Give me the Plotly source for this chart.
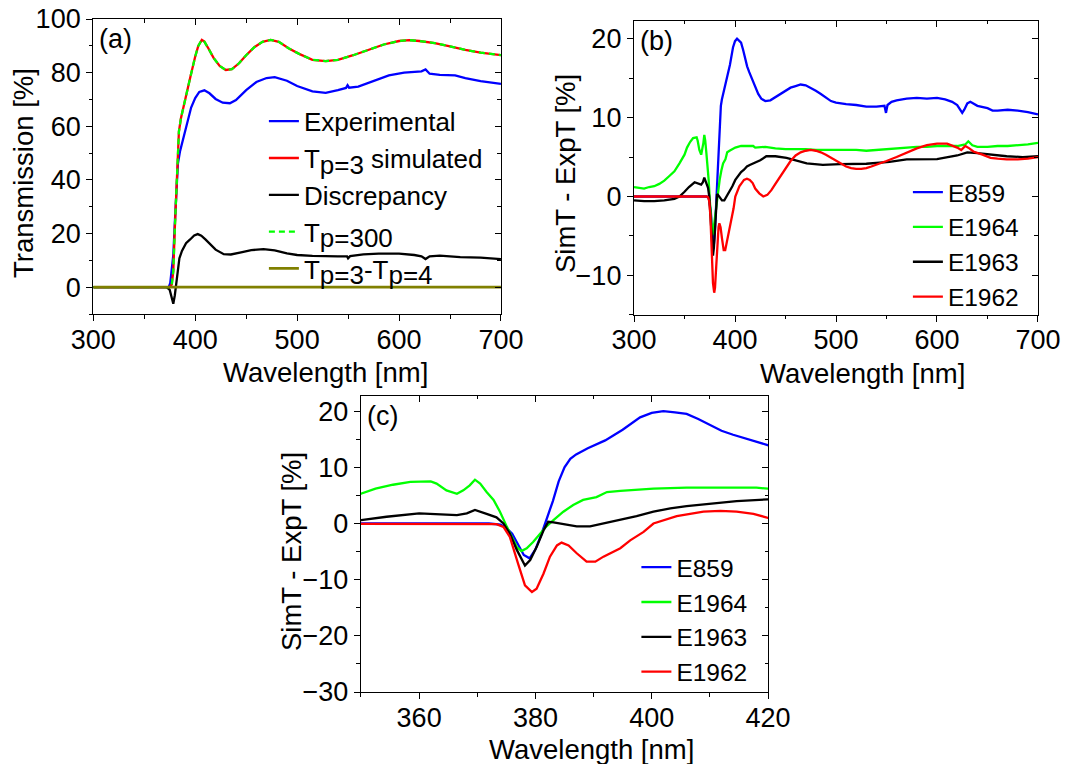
import plotly.graph_objects as go

# ---------------- (a) transmission spectra ----------------
wl_sim = [300, 340, 370, 375, 377, 378.5, 380, 381.5, 383, 384, 386, 390, 395, 400, 403,
          406.5, 409, 413, 418, 424, 430, 436, 443, 450, 458, 466, 474, 482, 492, 502,
          515, 528, 540, 555, 570, 585, 600, 610, 620, 635, 650, 665, 680, 700]
t_sim = [0, 0, 0, 0, 1, 6, 22, 38, 52, 58, 63, 70, 78, 86, 90,
         92.2, 91.6, 89, 85.5, 82.5, 81, 81.3, 83.5, 86.5, 89.5, 91.5, 92.2, 91.5, 89, 87,
         84.8, 84.3, 84.8, 86.5, 88.5, 90.5, 91.8, 92.1, 91.8, 91, 89.8, 88.5, 87.5, 86.5]
t_p300 = list(t_sim)

wl_exp = [300, 340, 374, 375.5, 377, 378.5, 380, 381.5, 383, 385, 388, 392, 396, 400, 404,
          409, 414, 420, 427, 434, 440, 450, 460, 470, 478, 490, 500, 515, 528, 540,
          548, 549.5, 551, 560, 575, 590, 605, 615, 622, 626, 630, 640, 655, 665, 680, 700]
t_exp = [0, 0, 0, 1.5, 7, 12, 24, 36, 46, 50.5, 55, 61, 67, 70.5, 72.8,
         73.4, 72.3, 70.2, 68.8, 68.6, 69.8, 73.5, 76.5, 78, 78.3, 77, 75, 73, 72.5, 73.5,
         74.3, 75.3, 74.4, 74.8, 77, 79, 80, 80.3, 80.5, 81.2, 79.6, 79.2, 79, 78, 76.8, 75.8]

wl_disc = [300, 340, 372, 375, 377, 378.5, 380, 381.5, 383, 384.5, 387, 391, 395, 399,
           402.5, 406, 410, 415, 420, 428, 435, 445, 455, 467, 478, 490, 500, 515, 528,
           540, 549, 550, 552, 565, 580, 600, 615, 622, 626, 630, 640, 660, 680, 700]
t_disc = [0, 0, 0, -1, -4, -6.2, -3, 2, 7, 10.8, 13.5, 16.4, 17.8, 19.3,
          19.8, 19.2, 17.8, 15.8, 14, 12.3, 12.2, 13, 13.8, 14.2, 13.7, 12.6, 12, 11.7, 11.5,
          11.5, 11.5, 10.8, 11.6, 12.2, 12.5, 12.5, 12, 11.5, 10.5, 11.5, 11.8, 11.2, 11, 10.5]

wl_tp34 = [300, 400, 500, 600, 700]
t_tp34 = [0, 0, 0, 0, 0]

# ---------------- (b)/(c) SimT - ExpT per sample ----------------
wl_e859 = [300, 340, 360, 372, 374, 375, 376, 377, 378, 379, 380, 381, 382, 383, 384, 385,
           386, 387, 389, 392, 395, 398, 400, 402, 404, 406, 408, 410, 412, 414, 416, 418,
           420, 423, 426, 430, 435, 440, 445, 450, 455, 460, 465, 470, 475, 480, 485, 490,
           495, 500, 510, 520, 530, 540, 548, 549.5, 551, 555, 560, 570, 580, 590, 600, 608,
           615, 620, 623, 625, 627, 630, 633, 640, 650, 655, 660, 670, 680, 690, 700]
d_e859 = [0, 0, 0, 0, -0.2, -0.8, -1.8, -3.8, -5.6, -6.2, -4.6, -2.0, 1.0, 4.0, 7.5, 10.0,
          11.5, 12.3, 13.4, 14.8, 16.7, 18.9, 19.7, 20.0, 19.8, 19.5, 18.6, 17.5, 16.5, 15.8, 15.2, 14.5,
          13.9, 13.0, 12.4, 12.1, 12.2, 12.6, 13.1, 13.5, 13.8, 14.0, 14.2, 14.1, 13.8, 13.4, 13.0, 12.5,
          12.1, 11.9, 11.7, 11.6, 11.4, 11.4, 11.5, 10.6, 11.6, 12.0, 12.2, 12.4, 12.5, 12.4, 12.5, 12.3,
          12.0, 11.6, 11.0, 10.6, 11.0, 11.8, 12.0, 11.5, 11.2, 10.9, 10.9, 11.0, 10.9, 10.7, 10.4]

wl_e1964 = [300, 305, 310, 315, 320, 325, 330, 335, 340, 345, 350, 352.5, 355.5, 358.5, 362, 363,
            364.7, 366.5, 367.6, 368.7, 369.6, 370.5, 371.6, 372.8, 373.9, 375.1, 376.8, 377.6,
            378.5, 379.6, 380.8, 381.9, 383.1, 384.8, 386.5, 388.2, 390.5, 392.3, 394.6, 397.4,
            400.3, 406, 412, 418, 420, 430, 440, 450, 460, 470, 480, 490, 500, 510, 520, 530,
            540, 550, 560, 570, 580, 590, 600, 610, 620, 628, 631, 635, 640, 650, 660, 670, 680,
            690, 700]
d_e1964 = [1.2, 1.1, 1.0, 1.2, 1.3, 1.6, 2.0, 2.6, 3.2, 4.2, 5.3, 6.2, 6.9, 7.4, 7.5, 7.1,
           5.9, 5.3, 5.9, 6.8, 7.8, 7.1, 5.6, 4.2, 2.1, -0.6, -4.2, -4.9,
           -4.4, -3.3, -1.8, -0.5, 0.6, 2.1, 3.3, 4.2, 4.7, 5.6, 5.8, 6.0,
           6.2, 6.4, 6.4, 6.4, 6.2, 6.3, 6.1, 6.0, 6.0, 6.0, 5.9, 5.9, 5.9, 5.9, 5.9, 5.8,
           5.9, 6.0, 6.1, 6.2, 6.3, 6.3, 6.4, 6.4, 6.4, 6.6, 7.0, 6.5, 6.3, 6.3, 6.4, 6.4, 6.5,
           6.6, 6.8]

wl_e1963 = [300, 310, 320, 330, 340, 345, 350, 354.4, 360, 363, 366.5, 368.2, 369.6, 371.6,
            373.3, 374.5, 375.6, 376.8, 378.2, 379.1, 380.2, 381.4, 382.2, 383.1, 384.8, 387.1,
            389.4, 391.7, 394.6, 397.4, 400.3, 403.2, 406, 408.9, 411.8, 414.6, 420, 425, 431,
            440, 451, 460, 471, 487, 504, 530, 553, 570, 600, 620, 630, 640, 653, 669, 685, 700]
d_e1963 = [-0.5, -0.6, -0.6, -0.5, -0.3, 0.0, 0.6, 1.2, 1.8, 1.7, 1.5, 1.8, 2.4, 1.7,
           1.1, 0.0, -1.8, -4.7, -7.5, -6.5, -4.2, -1.2, 0.3, 0.2, -0.1, -0.5,
           -0.5, 0.0, 0.6, 1.3, 2.1, 2.7, 3.1, 3.4, 3.8, 4.0, 4.3, 4.6, 5.1,
           5.1, 4.9, 4.6, 4.2, 4.0, 4.1, 4.15, 4.4, 4.7, 4.75, 5.2, 5.6, 5.5, 5.3, 5.1, 5.0, 5.1]

wl_e1962 = [300, 340, 372, 373.3, 374.5, 375.6, 377, 378.2, 379.4, 380.2, 381.4, 382.5, 383.7,
            384.5, 385.7, 387.1, 388.8, 390.3, 391.7, 394.6, 396.3, 398.6, 400.3, 402, 404.3,
            406.6, 408.9, 411.8, 414.6, 417.5, 420, 424, 428, 432, 436, 440, 445, 450, 455, 460,
            465, 470, 475, 480, 485, 490, 495, 500, 505, 510, 515, 520, 525, 530, 535, 540, 550,
            560, 570, 580, 590, 600, 610, 615, 620, 624, 628, 632, 636, 645, 653, 660, 669, 680,
            690, 700]
d_e1962 = [0, 0, 0, -0.1, -0.6, -2.4, -7.1, -11.0, -12.2, -11.6, -8.9, -5.9, -3.9,
           -3.4, -3.9, -5.3, -6.8, -6.8, -5.9, -4.4, -3.0, -1.5, 0.0, 0.6, 1.3,
           1.7, 2.1, 2.25, 2.1, 1.7, 1.0, 0.4, 0.0, 0.2, 0.8, 1.6, 2.6, 3.6, 4.5, 5.2,
           5.6, 5.8, 5.9, 5.8, 5.6, 5.3, 4.9, 4.5, 4.1, 3.8, 3.6, 3.5, 3.5, 3.6, 3.8, 4.0, 4.5,
           5.0, 5.6, 6.1, 6.5, 6.7, 6.7, 6.5, 6.2, 5.9, 6.4, 6.1, 5.7, 5.3, 4.9, 4.8, 4.7, 4.7,
           4.8, 5.0]

FONT = "Liberation Sans, Arial, sans-serif"
BLUE, RED, BLACK, GREEN, OLIVE = "#0000ff", "#ff0000", "#000000", "#00ff00", "#808000"
LW = 2.3
TICK_FS = 27
TITLE_FS = 27.5
LEG_A_FS = 26
LEG_BC_FS = 24.5
W, H = 1086, 764


def sub(txt):
    return "<sub><span style='font-size:%dpx'>%s</span></sub>" % (LEG_A_FS, txt)


fig = go.Figure()

# panel (a)
fig.add_trace(go.Scatter(x=wl_exp, y=t_exp, name="Experimental", line=dict(color=BLUE, width=LW),
                         xaxis="x", yaxis="y", legend="legend", legendgroup="a1"))
fig.add_trace(go.Scatter(x=wl_sim, y=t_sim, name="T" + sub("p=3") + " simulated",
                         line=dict(color=RED, width=LW), xaxis="x", yaxis="y",
                         legend="legend", legendgroup="a2"))
fig.add_trace(go.Scatter(x=wl_disc, y=t_disc, name="Discrepancy", line=dict(color=BLACK, width=LW),
                         xaxis="x", yaxis="y", legend="legend", legendgroup="a3"))
fig.add_trace(go.Scatter(x=wl_sim, y=t_p300, name="T" + sub("p=300"),
                         line=dict(color=GREEN, width=LW, dash="6px,4px"), xaxis="x", yaxis="y",
                         legend="legend", legendgroup="a4"))
fig.add_trace(go.Scatter(x=wl_tp34, y=t_tp34, name="T" + sub("p=3") + "-T" + sub("p=4"),
                         line=dict(color=OLIVE, width=LW + 0.4), xaxis="x", yaxis="y",
                         legend="legend", legendgroup="a5"))

samples = [("E859", wl_e859, d_e859, BLUE), ("E1964", wl_e1964, d_e1964, GREEN),
           ("E1963", wl_e1963, d_e1963, BLACK), ("E1962", wl_e1962, d_e1962, RED)]
for nm, wl, d, col in samples:
    fig.add_trace(go.Scatter(x=wl, y=d, name=nm, line=dict(color=col, width=LW),
                             xaxis="x2", yaxis="y2", legend="legend2"))
for nm, wl, d, col in samples:
    fig.add_trace(go.Scatter(x=wl, y=d, name=nm, line=dict(color=col, width=LW),
                             xaxis="x3", yaxis="y3", legend="legend3"))

for tr in fig.data:
    tr.mode = "lines"
    tr.hoverinfo = "skip"

xa_rng, ya_rng = [300, 700], [-10, 100]
xb_rng, yb_rng = [300, 700], [-15, 22.3]
xc_rng, yc_rng = [350, 420], [-30, 22.7]

# top and right frame axes carrying inward ticks; an invisible trace keeps each one drawn
frames = [("x", "y", "x4", "y4", xa_rng, ya_rng),
          ("x2", "y2", "x5", "y5", xb_rng, yb_rng),
          ("x3", "y3", "x6", "y6", xc_rng, yc_rng)]
for bx, by, tx, ry, xr, yr in frames:
    for ax_x, ax_y in ((tx, by), (bx, ry)):
        fig.add_trace(go.Scatter(x=xr, y=yr, xaxis=ax_x, yaxis=ax_y, mode="lines",
                                 line=dict(width=0, color="rgba(0,0,0,0)"), showlegend=False,
                                 hoverinfo="skip"))

tickfont = dict(family=FONT, size=TICK_FS, color="black")


def base_axis(rng, dtick, mdtick, domain, anchor, standoff=0):
    return dict(range=rng, domain=domain, anchor=anchor, dtick=dtick, tick0=0,
                ticks="outside", ticklen=6, tickwidth=1.3, tickcolor="black",
                minor=dict(dtick=mdtick, tick0=0, ticks="outside", ticklen=3.5, tickwidth=1.3,
                           tickcolor="black", showgrid=False),
                showline=True, linecolor="black", linewidth=1.4, mirror=True,
                showgrid=False, zeroline=False, tickfont=tickfont, automargin=False,
                ticklabelstandoff=standoff)


def frame_axis(rng, dtick, mdtick, overlay, anchor, side):
    return dict(range=rng, overlaying=overlay, anchor=anchor, side=side, dtick=dtick, tick0=0,
                ticks="inside", ticklen=6, tickwidth=1.3, tickcolor="black",
                minor=dict(dtick=mdtick, tick0=0, ticks="inside", ticklen=3.5, tickwidth=1.3,
                           tickcolor="black", showgrid=False),
                showticklabels=False, showline=False, showgrid=False, zeroline=False,
                automargin=False)


dom_a_x, dom_a_y = [0.0859, 0.4613], [0.589, 0.9751]
dom_b_x, dom_b_y = [0.5838, 0.9558], [0.588, 0.973]
dom_c_x, dom_c_y = [0.3324, 0.7072], [0.0942, 0.4817]

fig.update_layout(
    xaxis=base_axis(xa_rng, 100, 50, dom_a_x, "y", -5),
    yaxis=base_axis(ya_rng, 20, 10, dom_a_y, "x"),
    xaxis2=base_axis(xb_rng, 100, 50, dom_b_x, "y2", -5),
    yaxis2=base_axis(yb_rng, 10, 5, dom_b_y, "x2"),
    xaxis3=base_axis(xc_rng, 20, 10, dom_c_x, "y3", -5),
    yaxis3=base_axis(yc_rng, 10, 5, dom_c_y, "x3"),
    xaxis4=frame_axis(xa_rng, 100, 50, "x", "y", "top"),
    yaxis4=frame_axis(ya_rng, 20, 10, "y", "x", "right"),
    xaxis5=frame_axis(xb_rng, 100, 50, "x2", "y2", "top"),
    yaxis5=frame_axis(yb_rng, 10, 5, "y2", "x2", "right"),
    xaxis6=frame_axis(xc_rng, 20, 10, "x3", "y3", "top"),
    yaxis6=frame_axis(yc_rng, 10, 5, "y3", "x3", "right"),
)

fig.update_layout(
    legend=dict(x=0.243, y=0.872, xanchor="left", yanchor="top",
                font=dict(family=FONT, size=LEG_A_FS, color="black"),
                bgcolor="rgba(0,0,0,0)", tracegroupgap=0, traceorder="grouped"),
    legend2=dict(x=0.836, y=0.778, xanchor="left", yanchor="top",
                 font=dict(family=FONT, size=LEG_BC_FS, color="black"),
                 bgcolor="rgba(0,0,0,0)", traceorder="normal"),
    legend3=dict(x=0.586, y=0.287, xanchor="left", yanchor="top",
                 font=dict(family=FONT, size=LEG_BC_FS, color="black"),
                 bgcolor="rgba(0,0,0,0)", traceorder="normal"),
)

titlefont = dict(family=FONT, size=TITLE_FS, color="black")
# axis titles: (text, centre x px, centre y px, angle)
axis_titles = [("Wavelength [nm]", 325, 372, 0), ("Transmission [%]", 23, 173, -90),
               ("Wavelength [nm]", 862, 373, 0), ("SimT - ExpT [%]", 566, 174, -90),
               ("Wavelength [nm]", 591, 749, 0), ("SimT - ExpT [%]", 291, 552, -90)]
for txt, cx, cy, ang in axis_titles:
    fig.add_annotation(text=txt, xref="paper", yref="paper", x=cx / W, y=1 - cy / H,
                       xanchor="center", yanchor="middle", textangle=ang, showarrow=False,
                       font=titlefont)

for lbl, xr in (("(a)", "x"), ("(b)", "x2"), ("(c)", "x3")):
    fig.add_annotation(text=lbl, xref=xr + " domain", yref=xr.replace("x", "y") + " domain",
                       x=0.01, y=0.99, xanchor="left", yanchor="top", showarrow=False,
                       font=dict(family=FONT, size=TICK_FS, color="black"))

fig.update_layout(width=W, height=H, margin=dict(l=0, r=0, t=0, b=0),
                  paper_bgcolor="white", plot_bgcolor="white", showlegend=True,
                  font=dict(family=FONT, color="black"))

fig.write_html("out.html")
